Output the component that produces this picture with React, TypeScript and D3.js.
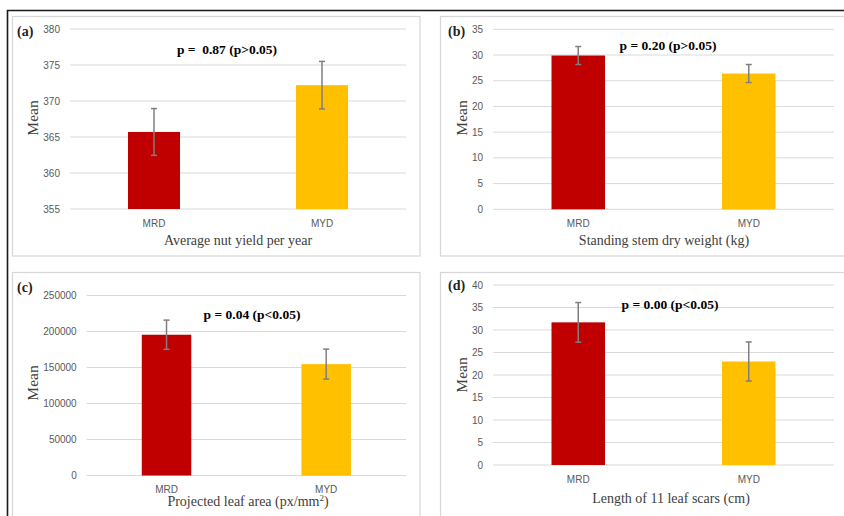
import React from 'react';
import * as d3 from 'd3';

// groups
const categories = ['MRD', 'MYD'];

// (a) average nut yield per year
const yieldMeans = [365.7, 372.2];
const yieldErrors = [3.25, 3.3];
const yieldTicks = [355, 360, 365, 370, 375, 380];

// (b) standing stem dry weight
const stemMeans = [29.9, 26.4];
const stemErrors = [1.75, 1.75];
const stemTicks = [0, 5, 10, 15, 20, 25, 30, 35];

// (c) projected leaf area
const leafMeans = [195500, 154700];
const leafErrors = [20300, 20800];
const leafTicks = [0, 50000, 100000, 150000, 200000, 250000];

// (d) length of 11 leaf scars
const scarMeans = [31.7, 23.0];
const scarErrors = [4.4, 4.35];
const scarTicks = [0, 5, 10, 15, 20, 25, 30, 35, 40];

const barColors = ['#C00000', '#FFC000'];

const SERIF = '"Liberation Serif", "DejaVu Serif", serif';
const SANS = '"Liberation Sans", Arial, sans-serif';

type Panel = {
  tag: string;
  pText: string;
  title: React.ReactNode;
  means: number[];
  errors: number[];
  ticks: number[];
  box: [number, number, number, number];
  plot: { left: number; right: number; top: number; bottom: number };
  tagPos: [number, number];
  pPos: [number, number];
  catY: number;
  titlePos: [number, number];
  meanPos: [number, number];
  barWidth: number;
};

const panels: Panel[] = [
  {
    tag: '(a)', pText: 'p =\u00a0\u00a00.87 (p>0.05)', title: 'Average nut yield per year',
    means: yieldMeans, errors: yieldErrors, ticks: yieldTicks,
    box: [12.5, 16.5, 420, 256],
    plot: { left: 70, right: 406, top: 29, bottom: 209 },
    tagPos: [17, 31], pPos: [227, 49], catY: 223, titlePos: [238, 240], meanPos: [33, 118],
    barWidth: 52,
  },
  {
    tag: '(b)', pText: 'p = 0.20 (p>0.05)', title: 'Standing stem dry weight (kg)',
    means: stemMeans, errors: stemErrors, ticks: stemTicks,
    box: [440.5, 16.5, 850, 256],
    plot: { left: 493, right: 834, top: 29.3, bottom: 209.3 },
    tagPos: [448, 31], pPos: [668, 45], catY: 223, titlePos: [664, 240], meanPos: [462, 118],
    barWidth: 53.5,
  },
  {
    tag: '(c)', pText: 'p = 0.04 (p<0.05)',
    title: (
      <>
        Projected leaf area (px/mm
        <tspan baselineShift="super" fontSize="9">2</tspan>)
      </>
    ),
    means: leafMeans, errors: leafErrors, ticks: leafTicks,
    box: [12.5, 272.5, 420, 530],
    plot: { left: 86.7, right: 406, top: 295.5, bottom: 475.5 },
    tagPos: [17, 287], pPos: [252, 314], catY: 489, titlePos: [248, 501], meanPos: [33, 383],
    barWidth: 49.5,
  },
  {
    tag: '(d)', pText: 'p = 0.00 (p<0.05)', title: 'Length of 11 leaf scars (cm)',
    means: scarMeans, errors: scarErrors, ticks: scarTicks,
    box: [440.5, 272.5, 850, 530],
    plot: { left: 493, right: 834, top: 285, bottom: 465 },
    tagPos: [448, 285], pPos: [670, 304], catY: 479, titlePos: [671, 498], meanPos: [462, 375],
    barWidth: 53.5,
  },
];

function BarPanel({ p }: { p: Panel }) {
  const { plot } = p;
  const x = d3.scaleBand<string>().domain(categories).range([plot.left, plot.right]);
  const y = d3
    .scaleLinear()
    .domain([p.ticks[0], p.ticks[p.ticks.length - 1]])
    .range([plot.bottom, plot.top]);
  const [bx0, by0, bx1, by1] = p.box;

  return (
    <g>
      <rect x={bx0} y={by0} width={bx1 - bx0} height={by1 - by0} fill="#fff" stroke="#d6d6d6" strokeWidth={1.2} />
      {/* gridlines + tick labels */}
      {p.ticks.map((t) => (
        <g key={t}>
          <line x1={plot.left} x2={plot.right} y1={y(t)} y2={y(t)} stroke="#d9d9d9" strokeWidth={1} />
          <text x={plot.left - 10} y={y(t)} dy="0.35em" textAnchor="end" fontFamily={SANS} fontSize={10} fill="#595959">
            {t}
          </text>
        </g>
      ))}
      {/* bars */}
      {categories.map((c, i) => {
        const cx = (x(c) as number) + x.bandwidth() / 2;
        return (
          <g key={c}>
            <rect
              x={cx - p.barWidth / 2}
              y={y(p.means[i])}
              width={p.barWidth}
              height={y(p.ticks[0]) - y(p.means[i])}
              fill={barColors[i]}
            />
            <line x1={cx} x2={cx} y1={y(p.means[i] + p.errors[i])} y2={y(p.means[i] - p.errors[i])} stroke="#7f7f7f" strokeWidth={1.5} />
            <line x1={cx - 3} x2={cx + 3} y1={y(p.means[i] + p.errors[i])} y2={y(p.means[i] + p.errors[i])} stroke="#7f7f7f" strokeWidth={1.5} />
            <line x1={cx - 3} x2={cx + 3} y1={y(p.means[i] - p.errors[i])} y2={y(p.means[i] - p.errors[i])} stroke="#7f7f7f" strokeWidth={1.5} />
            <text x={cx} y={p.catY} dy="0.35em" textAnchor="middle" fontFamily={SANS} fontSize={10} fill="#595959">
              {c}
            </text>
          </g>
        );
      })}
      <text x={p.tagPos[0]} y={p.tagPos[1]} dy="0.35em" fontFamily={SERIF} fontSize={14} fontWeight="bold" fill="#222">
        {p.tag}
      </text>
      <text x={p.pPos[0]} y={p.pPos[1]} dy="0.35em" textAnchor="middle" fontFamily={SERIF} fontSize={13.5} fontWeight="bold" fill="#000">
        {p.pText}
      </text>
      <text x={p.titlePos[0]} y={p.titlePos[1]} dy="0.35em" textAnchor="middle" fontFamily={SERIF} fontSize={14} fill="#404040">
        {p.title}
      </text>
      <text
        transform={`translate(${p.meanPos[0]},${p.meanPos[1]}) rotate(-90)`}
        dy="0.35em"
        textAnchor="middle"
        fontFamily={SERIF}
        fontSize={15.5}
        fill="#404040"
      >
        Mean
      </text>
    </g>
  );
}

export default function App() {
  return (
    <svg
      width={844}
      height={516}
      viewBox="0 0 844 516"
      style={{ position: 'absolute', left: 0, top: 0, background: '#fff' }}
    >
      <rect x={0} y={0} width={844} height={516} fill="#fff" />
      {panels.map((p) => (
        <BarPanel key={p.tag} p={p} />
      ))}
      {/* outer frame */}
      <path d="M7.5,520 V10.5 H850" fill="none" stroke="#1a1a1a" strokeWidth={1.6} />
    </svg>
  );
}
